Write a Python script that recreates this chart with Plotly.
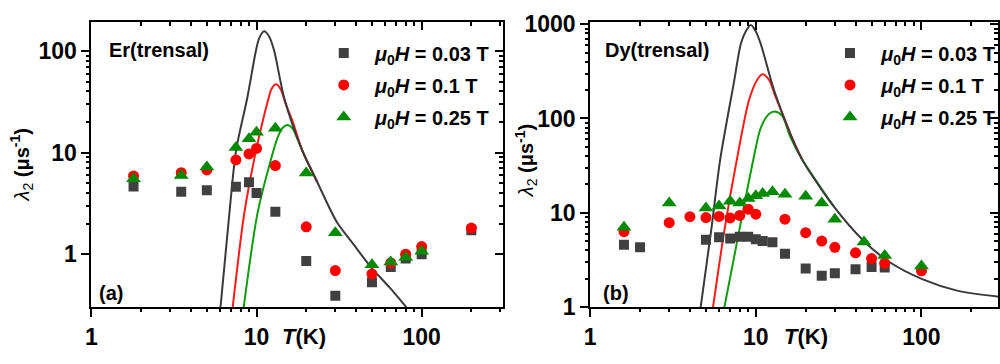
import plotly.graph_objects as go

FONT = "Liberation Sans"

# ---------------- Er(trensal) data ----------------
er_T_003 = [1.8, 3.5, 5, 7.5, 9, 10, 13, 20, 30, 50, 65, 80, 100, 200]
er_003 = [4.64, 4.12, 4.26, 4.61, 5.12, 4.0, 2.62, 0.86, 0.39, 0.53, 0.75, 0.91, 1.0, 1.72]
er_T_01 = [1.8, 3.5, 5, 7.5, 9, 10, 13, 20, 30, 50, 65, 80, 100, 200]
er_01 = [5.9, 6.34, 6.75, 8.47, 9.7, 11.0, 7.46, 1.86, 0.69, 0.64, 0.82, 1.0, 1.19, 1.81]
er_T_025 = [1.8, 3.5, 5, 7.5, 9, 10, 13, 20, 30, 50, 65, 80, 100]
er_025 = [5.54, 5.95, 7.2, 11.2, 13.7, 15.9, 17.4, 6.3, 1.63, 0.79, 0.84, 0.93, 1.07]

# fit curves
er_fit_T_003 = [6.05, 6.85, 7.52, 8.8, 9.92, 10.38, 11.12, 11.92, 12.78, 14.68, 18.91, 23.27, 30.7, 38.7, 48.7, 64.3, 80.9]
er_fit_003 = [0.3, 2.54, 10.5, 34.9, 101, 134, 156, 139, 101, 34.9, 10.5, 5.17, 2.06, 1.25, 0.765, 0.466, 0.3]
er_fit_T_01 = [7.17, 8.43, 9.8, 10.87, 11.7, 12.3, 13.1, 14.0, 15.0, 16.5, 18.91, 23.27]
er_fit_01 = [0.3, 2.54, 9.5, 20.0, 32.0, 42.0, 47.0, 42.0, 30.3, 20.5, 10.5, 5.17]
er_fit_T_025 = [8.36, 10.14, 12.2, 13.38, 14.3, 15.4, 16.5, 17.6, 20.3, 21.2, 23.27]
er_fit_025 = [0.3, 2.54, 8.47, 13.9, 17.3, 18.7, 17.3, 13.9, 8.1, 7.1, 5.17]

# ---------------- Dy(trensal) data ----------------
dy_T_003 = [1.6, 2, 5, 6, 7, 8, 9, 10, 11, 12.6, 15, 20, 25, 30, 40, 50, 60]
dy_003 = [4.57, 4.3, 5.16, 5.49, 5.32, 5.57, 5.57, 5.24, 5.01, 4.85, 3.66, 2.56, 2.15, 2.28, 2.52, 2.66, 2.62]
dy_T_01 = [1.6, 3, 4, 5, 6, 7, 8, 9, 10, 15, 20, 25, 30, 40, 50, 60, 100]
dy_01 = [6.29, 7.85, 9.08, 8.88, 9.14, 8.8, 9.36, 10.9, 9.64, 8.54, 6.15, 5.01, 4.3, 3.75, 3.26, 2.91, 2.42]
dy_T_025 = [1.6, 3, 5, 6, 7, 8, 9, 10, 11, 12.6, 15, 20, 25, 30, 45, 60, 100]
dy_025 = [7.0, 12.7, 11.2, 11.8, 13.2, 12.7, 14.2, 15.1, 16.0, 16.7, 15.7, 15.0, 12.7, 8.54, 4.9, 3.52, 2.72]

dy_fit_T_003 = [4.64, 5.37, 6.1, 7.4, 8.12, 8.7, 9.32, 9.99, 10.7, 12.9, 16.2, 19.0, 29.4, 44.5, 64.4, 102, 162, 287, 320]
dy_fit_003 = [0.98, 6.38, 37, 249, 621, 844, 982, 844, 621, 198, 68, 37, 11.8, 5.08, 2.98, 1.96, 1.5, 1.29, 1.27]
dy_fit_T_01 = [5.51, 6.45, 7.69, 9.1, 10.2, 10.95, 12.0, 13.16, 14.5, 16.2, 19.0]
dy_fit_01 = [0.98, 6.38, 37, 157, 258, 295, 258, 170, 112, 68, 37]
dy_fit_T_025 = [6.45, 7.93, 9.67, 10.7, 12.0, 12.98, 14.4, 16.2, 19.0, 29.4]
dy_fit_025 = [0.98, 6.38, 37, 79.2, 111.6, 118.8, 107.6, 63, 37, 11.8]

# ---------------- ticks ----------------
major_vals = [1, 10, 100, 1000]
major_text = ["1", "10", "100", "1000"]
minor_vals = [m * 10 ** e for e in range(0, 3) for m in range(2, 10)]

legend_names = ["<b><i>μ</i><sub>0</sub><i>H</i> = 0.03 T</b>",
                "<b><i>μ</i><sub>0</sub><i>H</i> = 0.1 T</b>",
                "<b><i>μ</i><sub>0</sub><i>H</i> = 0.25 T</b>"]

C_BLK_M = "#404040"
C_RED_M = "#ff0000"
C_GRN_M = "#008a00"
C_BLK_L = "#3a3a3a"
C_RED_L = "#ff1a1a"
C_GRN_L = "#109a10"

fig = go.Figure()


def add_panel(xa, ya, leg, fits, pts):
    for (tx, ty, col) in fits:
        fig.add_trace(go.Scatter(x=tx, y=ty, mode="lines", line=dict(color=col, width=2, shape="spline", smoothing=0.8),
                                 xaxis=xa, yaxis=ya, showlegend=False, hoverinfo="skip"))
    for i, (tx, ty, col, sym, size, name) in enumerate(pts):
        fig.add_trace(go.Scatter(x=tx, y=ty, mode="markers", name="\u00a0\u00a0" + name,
                                 marker=dict(color=col, symbol=sym, size=size, line=dict(width=0)),
                                 xaxis=xa, yaxis=ya, legend=leg, legendgroup=leg + str(i)))


add_panel("x", "y", "legend",
          [(er_fit_T_025, er_fit_025, C_GRN_L), (er_fit_T_01, er_fit_01, C_RED_L), (er_fit_T_003, er_fit_003, C_BLK_L)],
          [(er_T_003, er_003, C_BLK_M, "square", 10, legend_names[0]),
           (er_T_01, er_01, C_RED_M, "circle", 11, legend_names[1]),
           (er_T_025, er_025, C_GRN_M, "triangle-up", 13, legend_names[2])])
add_panel("x2", "y2", "legend2",
          [(dy_fit_T_025, dy_fit_025, C_GRN_L), (dy_fit_T_01, dy_fit_01, C_RED_L), (dy_fit_T_003, dy_fit_003, C_BLK_L)],
          [(dy_T_003, dy_003, C_BLK_M, "square", 10, legend_names[0]),
           (dy_T_01, dy_01, C_RED_M, "circle", 11, legend_names[1]),
           (dy_T_025, dy_025, C_GRN_M, "triangle-up", 13, legend_names[2])])

# dummy traces so that the tick-only overlay axes are drawn
for n in (3, 4, 5, 6, 7, 8):
    fig.add_trace(go.Scatter(x=[], y=[], xaxis="x%d" % n, yaxis="y%d" % n, showlegend=False, hoverinfo="skip"))

TICKFONT = dict(family=FONT, size=23, color="black", weight="bold")


def ax(rng, domain, anchor, side, ticks, vals, ticklen, tickwidth, labels=False, line=False, overlaying=None):
    d = dict(type="log", range=rng, anchor=anchor, side=side, ticks=ticks, ticklen=ticklen, tickwidth=tickwidth,
             tickcolor="black", showgrid=False, zeroline=False, tickmode="array", tickvals=vals,
             showticklabels=labels, fixedrange=True)
    if labels:
        d.update(ticktext=major_text, tickfont=TICKFONT)
    if domain is not None:
        d["domain"] = domain
    if line:
        d.update(showline=True, linewidth=2, linecolor="black", mirror=True)
    else:
        d.update(showline=False)
    if overlaying:
        d["overlaying"] = overlaying
    return d


YDOM = [1 - 317 / 364, 1 - 12.5 / 364]
XDOM1 = [0.086, 0.500]
XDOM2 = [0.5883, 0.999]
XR1 = [0, 2.4895]
YR1 = [-0.519, 2.288]
XR2 = [0, 2.4622]
YR2 = [0, 3.027]

axes = dict(
    xaxis=ax(XR1, XDOM1, "y", "bottom", "outside", major_vals, 8, 2, labels=True, line=True),
    yaxis=ax(YR1, YDOM, "x", "left", "outside", major_vals, 8, 2, labels=True, line=True),
    xaxis2=ax(XR2, XDOM2, "y2", "bottom", "outside", major_vals, 8, 2, labels=True, line=True),
    yaxis2=ax(YR2, YDOM, "x2", "left", "outside", major_vals, 8, 2, labels=True, line=True),
    # top / right major ticks (inside)
    xaxis3=ax(XR1, None, "y", "top", "inside", major_vals, 8, 2, overlaying="x"),
    yaxis3=ax(YR1, None, "x", "right", "inside", major_vals, 8, 2, overlaying="y"),
    xaxis4=ax(XR2, None, "y2", "top", "inside", major_vals, 8, 2, overlaying="x2"),
    yaxis4=ax(YR2, None, "x2", "right", "inside", major_vals, 8, 2, overlaying="y2"),
    # bottom / left minor ticks (outside)
    xaxis5=ax(XR1, None, "y", "bottom", "outside", minor_vals, 4, 1.5, overlaying="x"),
    yaxis5=ax(YR1, None, "x", "left", "outside", minor_vals, 4, 1.5, overlaying="y"),
    xaxis6=ax(XR2, None, "y2", "bottom", "outside", minor_vals, 4, 1.5, overlaying="x2"),
    yaxis6=ax(YR2, None, "x2", "left", "outside", minor_vals, 4, 1.5, overlaying="y2"),
    # top / right minor ticks (inside)
    xaxis7=ax(XR1, None, "y", "top", "inside", minor_vals, 4, 1.5, overlaying="x"),
    yaxis7=ax(YR1, None, "x", "right", "inside", minor_vals, 4, 1.5, overlaying="y"),
    xaxis8=ax(XR2, None, "y2", "top", "inside", minor_vals, 4, 1.5, overlaying="x2"),
    yaxis8=ax(YR2, None, "x2", "right", "inside", minor_vals, 4, 1.5, overlaying="y2"),
)

fig.update_layout(
    width=1000, height=364,
    margin=dict(l=0, r=0, t=0, b=0),
    paper_bgcolor="white", plot_bgcolor="white",
    font=dict(family=FONT, color="black"),
    legend=dict(x=0.320, y=1 - 25 / 364, xanchor="left", yanchor="top", bgcolor="rgba(0,0,0,0)",
                tracegroupgap=3, font=dict(family=FONT, size=20, color="black")),
    legend2=dict(x=0.830, y=1 - 25 / 364, xanchor="left", yanchor="top", bgcolor="rgba(0,0,0,0)",
                 tracegroupgap=3, font=dict(family=FONT, size=20, color="black")),
    showlegend=True,
    **axes,
)

ann = [
    dict(text="<b>Er(trensal)</b>", x=0.1017, y=1 - 43 / 364, xanchor="left", yanchor="middle", size=20),
    dict(text="<b>Dy(trensal)</b>", x=0.6017, y=1 - 43 / 364, xanchor="left", yanchor="middle", size=20),
    dict(text="<b>(a)</b>", x=0.092, y=1 - 302 / 364, xanchor="left", yanchor="middle", size=20),
    dict(text="<b>(b)</b>", x=0.599, y=1 - 302 / 364, xanchor="left", yanchor="middle", size=20),
    dict(text="<b><i>T</i>(K)</b>", x=0.300, y=1 - 348 / 364, xanchor="center", yanchor="middle", size=22),
    dict(text="<b><i>T</i>(K)</b>", x=0.806, y=1 - 348 / 364, xanchor="center", yanchor="middle", size=22),
]
for a in ann:
    fig.add_annotation(text=a["text"], x=a["x"], y=a["y"], xref="paper", yref="paper",
                       xanchor=a["xanchor"], yanchor=a["yanchor"], showarrow=False,
                       font=dict(family=FONT, size=a["size"], color="black"))
for xc, yc in [(0.016, 1 - 165 / 364), (0.524, 1 - 161 / 364)]:
    fig.add_annotation(text="<i>λ</i><sub>2</sub> <b>(μs<sup>-1</sup>)</b>", x=xc, y=yc, xref="paper", yref="paper",
                       xanchor="center", yanchor="middle", textangle=-90, showarrow=False,
                       font=dict(family=FONT, size=20, color="black"))

fig.write_html("out.html", config={"displayModeBar": False},
               post_script="document.body.style.margin='0';")
